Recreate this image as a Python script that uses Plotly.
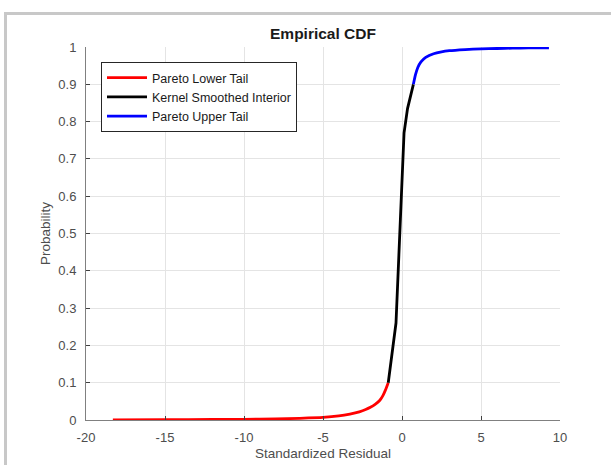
import plotly.graph_objects as go

# Lower tail (Pareto)
lower_x = [-18.3, -15, -12, -10, -8, -6.5, -5, -4, -3.3, -2.7, -2.3, -2.0, -1.7, -1.4, -1.2, -1.05, -0.87]
lower_p = [0.0006, 0.0009, 0.0013, 0.0018, 0.0027, 0.0045, 0.007, 0.011, 0.016, 0.022, 0.028, 0.034, 0.042, 0.053, 0.066, 0.08, 0.1]

# Kernel smoothed interior
mid_x = [-0.87, -0.62, -0.38, -0.1, 0.13, 0.35, 0.55, 0.72]
mid_p = [0.1, 0.18, 0.26, 0.54, 0.77, 0.835, 0.875, 0.9]

# Upper tail (Pareto)
upper_x = [0.72, 0.85, 1.0, 1.2, 1.5, 2.0, 2.5, 3.0, 4.0, 5.0, 6.0, 7.0, 8.0, 9.3]
upper_p = [0.9, 0.925, 0.945, 0.96, 0.972, 0.982, 0.987, 0.99, 0.993, 0.995, 0.996, 0.997, 0.9975, 0.998]

x_ticks = [-20, -15, -10, -5, 0, 5, 10]
y_ticks = [0, 0.1, 0.2, 0.3, 0.4, 0.5, 0.6, 0.7, 0.8, 0.9, 1]
y_tick_text = ["0", "0.1", "0.2", "0.3", "0.4", "0.5", "0.6", "0.7", "0.8", "0.9", "1"]

FONT = "Liberation Sans, Arial, Helvetica, sans-serif"
W, H = 611, 465
L, R, T, B = 86, 51, 47, 45

fig = go.Figure()
fig.add_trace(go.Scatter(x=lower_x, y=lower_p, mode="lines", name="Pareto Lower Tail",
                         line=dict(color="#ff0000", width=2.8, shape="spline", smoothing=0.6)))
fig.add_trace(go.Scatter(x=mid_x, y=mid_p, mode="lines", name="Kernel Smoothed Interior",
                         line=dict(color="#000000", width=2.8)))
fig.add_trace(go.Scatter(x=upper_x, y=upper_p, mode="lines", name="Pareto Upper Tail",
                         line=dict(color="#0000ff", width=2.8, shape="spline", smoothing=0.6)))

pw = W - L - R
ph = H - T - B
def px2x(px):
    return (px - L) / pw
def py2y(py):
    return (H - B - py) / ph

fig.update_layout(
    width=W, height=H,
    margin=dict(l=L, r=R, t=T, b=B, autoexpand=False),
    paper_bgcolor="white", plot_bgcolor="white",
    font=dict(family=FONT, size=13, color="#4d4d4d"),
    title=dict(text="<b>Empirical CDF</b>", x=(L + pw / 2) / W, xanchor="center",
               y=1 - 33.5 / H, yanchor="middle", yref="container",
               font=dict(family=FONT, size=15.5, color="#1a1a1a")),
    showlegend=True,
    legend=dict(x=px2x(101), y=py2y(62), xanchor="left", yanchor="top",
                bgcolor="white", bordercolor="#262626", borderwidth=1,
                font=dict(family=FONT, size=12.5, color="#1a1a1a"),
                tracegroupgap=0, itemwidth=40),
    xaxis=dict(range=[-20, 10], tickvals=x_ticks, ticktext=[str(v) for v in x_ticks],
               showgrid=True, gridcolor="#e4e4e4", gridwidth=1,
               showline=True, linecolor="#808080", linewidth=1,
               ticks="inside", ticklen=4, tickcolor="#404040",
               zeroline=False, mirror=False, automargin=False,
               ticklabelstandoff=5,
               title=dict(text="Standardized Residual", standoff=4,
                          font=dict(family=FONT, size=13.5, color="#4d4d4d")),
               tickfont=dict(family=FONT, size=13, color="#4d4d4d")),
    yaxis=dict(range=[0, 1], tickvals=y_ticks, ticktext=y_tick_text,
               showgrid=True, gridcolor="#e4e4e4", gridwidth=1,
               showline=True, linecolor="#808080", linewidth=1,
               ticks="inside", ticklen=4, tickcolor="#404040",
               zeroline=False, mirror=False, automargin=False,
               ticklabelstandoff=6,
               title=dict(text="Probability", standoff=4,
                          font=dict(family=FONT, size=13.5, color="#4d4d4d")),
               tickfont=dict(family=FONT, size=13, color="#4d4d4d")),
)

# light gray window frame (top and left edges)
fig.add_shape(type="line", xref="paper", yref="paper",
              x0=px2x(5.5), x1=px2x(W), y0=py2y(13.5), y1=py2y(13.5),
              line=dict(color="#c8c8c8", width=3))
fig.add_shape(type="line", xref="paper", yref="paper",
              x0=px2x(5.5), x1=px2x(5.5), y0=py2y(12), y1=py2y(H),
              line=dict(color="#c8c8c8", width=3))

fig.write_html("out.html", config={"displayModeBar": False},
               post_script="document.body.style.margin='0';")
